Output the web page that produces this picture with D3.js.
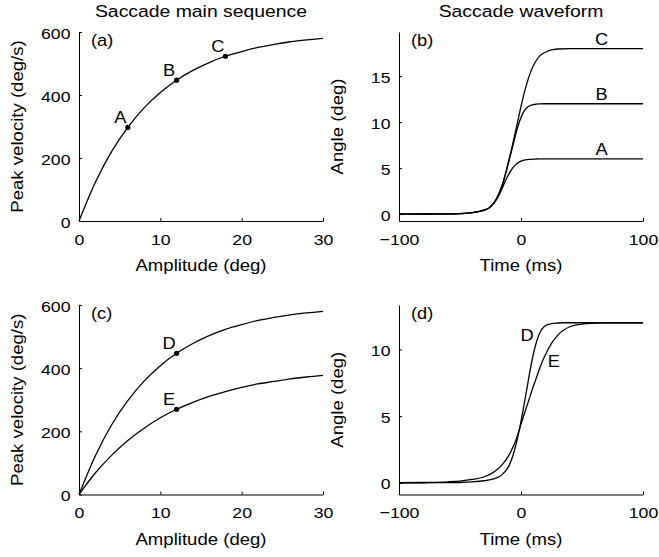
<!DOCTYPE html>
<html>
<head>
<meta charset="utf-8">
<script src="https://cdn.jsdelivr.net/npm/d3@7"></script>
<style>
  body { margin: 0; background: #fff; }
  text { font-family: "Liberation Sans", Arial, Helvetica, sans-serif; fill: #000; }
</style>
</head>
<body>
<div id="chart"></div>
<script>
// Main sequence: amplitude (deg) vs peak velocity (deg/s)
const amplitude = [0, 2, 4, 6, 8, 10, 12, 14, 16, 18, 20, 22, 24, 26, 28, 30];
const velocityFast = [0, 122, 220, 297, 359, 408, 447, 478, 503, 523, 538, 551, 561, 569, 575, 580];
const velocitySlow = [0, 68, 124, 171, 210, 243, 270, 292, 311, 326, 339, 350, 358, 366, 372, 377];

// Marked saccades on the main sequence
const seqNames = ['A', 'B', 'C'];
const seqAmp = [6, 12, 18];
const seqVel = [297, 447, 523];
const cmpNames = ['D', 'E'];
const cmpAmp = [12, 12];
const cmpVel = [447, 270];

// Waveforms for A, B, C (time in ms, angle in deg)
const timeABC = [-100, -80, -60, -50, -40, -35, -30, -25, -20, -17.5, -15, -12.5, -10, -7.5, -5, -2.5,
  0, 2.5, 5, 7.5, 10, 12.5, 15, 20, 25, 30, 40, 50, 60, 80, 100];
const angleA = [0, 0.01, 0.02, 0.05, 0.16, 0.27, 0.43, 0.77, 1.6, 2.2, 2.95, 3.7, 4.35, 4.9, 5.3, 5.58,
  5.76, 5.87, 5.93, 5.96, 5.98, 5.99, 6, 6, 6, 6, 6, 6, 6, 6, 6];
const angleB = [0, 0.01, 0.02, 0.05, 0.17, 0.28, 0.45, 0.8, 1.7, 2.4, 3.3, 4.45, 5.7, 7.0, 8.35, 9.55,
  10.5, 11.2, 11.6, 11.8, 11.9, 11.95, 11.98, 12, 12, 12, 12, 12, 12, 12, 12];
const angleC = [0, 0.01, 0.02, 0.05, 0.17, 0.28, 0.45, 0.8, 1.7, 2.4, 3.3, 4.5, 5.8, 7.2, 8.7, 10.2,
  11.7, 13.1, 14.3, 15.3, 16.1, 16.7, 17.15, 17.6, 17.85, 17.95, 18, 18, 18, 18, 18];

// Waveforms for D and E
const timeDE = [-100, -80, -60, -50, -40, -30, -25, -20, -15, -10, -7.5, -5, -2.5, 0, 2.5, 5, 7.5,
  10, 12.5, 15, 17.5, 20, 25, 30, 35, 40, 50, 60, 70, 80, 100];
const angleD = [0, 0, 0.01, 0.02, 0.06, 0.15, 0.23, 0.36, 0.65, 1.25, 1.8, 2.55, 3.5, 4.6, 5.85, 7.15, 8.45,
  9.6, 10.5, 11.15, 11.55, 11.78, 11.93, 11.98, 12, 12, 12, 12, 12, 12, 12];
const angleE = [0, 0.02, 0.07, 0.13, 0.25, 0.45, 0.65, 0.95, 1.4, 2.05, 2.5, 3.0, 3.65, 4.4, 5.1, 5.8, 6.5,
  7.2, 7.85, 8.5, 9.1, 9.6, 10.45, 11.05, 11.45, 11.7, 11.9, 11.97, 12, 12, 12];

const ampTicks = [0, 10, 20, 30];
const velTicks = [0, 200, 400, 600];
const timeTicks = [-100, 0, 100];

const width = 659, height = 557;
const stretch = 1.14; // the reference text is a bit wider than the font

const svg = d3.select('#chart').append('svg')
  .attr('width', width)
  .attr('height', height);

// Put a text at x, y, slightly widened
function addText(g, txt, x, y, size, anchor, rotate) {
  return g.append('text')
    .attr('transform', 'translate(' + x + ',' + y + ')' + (rotate ? ' rotate(' + rotate + ')' : '') +
      ' scale(' + stretch + ',1)')
    .attr('text-anchor', anchor || 'middle')
    .style('font-size', size + 'px')
    .text(txt);
}

// Draws axes, labels and returns the scales of one panel
function panel({ left, right, top, bottom, xDomain, yDomain, xTicks, yTicks, xLabel, yLabel, tag }) {
  const x = d3.scaleLinear().domain(xDomain).range([left, right]);
  const y = d3.scaleLinear().domain(yDomain).range([bottom, top]);
  const g = svg.append('g');

  const xAxis = g.append('g')
    .attr('transform', 'translate(0,' + bottom + ')')
    .call(d3.axisBottom(x).tickValues(xTicks).tickSizeInner(-3).tickSizeOuter(0)
      .tickPadding(13).tickFormat(d3.format('d')));
  const yAxis = g.append('g')
    .attr('transform', 'translate(' + left + ',0)')
    .call(d3.axisLeft(y).tickValues(yTicks).tickSizeInner(-3).tickSizeOuter(0)
      .tickPadding(7.5).tickFormat(d3.format('d')));

  [xAxis, yAxis].forEach(function (a) {
    a.attr('font-family', null).attr('font-size', null);
    a.select('.domain').attr('stroke', '#000').attr('stroke-width', 1);
    a.selectAll('.tick line').attr('stroke', '#000');
    a.selectAll('.tick text').style('font-size', '15.5px').attr('transform', 'scale(' + stretch + ',1)');
  });
  yAxis.selectAll('.tick text').attr('dy', '0.4em');

  addText(g, xLabel, (left + right) / 2, bottom + 50, 16.3, 'middle');
  addText(g, yLabel, left - 56, (top + bottom) / 2, 16.3, 'middle', -90);
  addText(g, tag, left + 12, top + 14, 16, 'start');

  return { g, x, y };
}

function drawCurve(p, xs, ys) {
  const line = d3.line()
    .x(function (d) { return p.x(d[0]); })
    .y(function (d) { return p.y(d[1]); })
    .curve(d3.curveMonotoneX);
  p.g.append('path')
    .datum(d3.zip(xs, ys))
    .attr('d', line)
    .attr('fill', 'none')
    .attr('stroke', '#000')
    .attr('stroke-width', 1.3);
}

function drawMarks(p, names, xs, ys) {
  names.forEach(function (n, i) {
    const cx = p.x(xs[i]), cy = p.y(ys[i]);
    p.g.append('circle').attr('cx', cx).attr('cy', cy).attr('r', 2.6).attr('fill', '#000');
    addText(p.g, n, cx - 7.5, cy - 4.5, 16, 'middle');
  });
}

// (a) main sequence
const pa = panel({
  left: 79, right: 323, top: 32, bottom: 221,
  xDomain: [0, 30], yDomain: [0, 600], xTicks: ampTicks, yTicks: velTicks,
  xLabel: 'Amplitude (deg)', yLabel: 'Peak velocity (deg/s)', tag: '(a)'
});
drawCurve(pa, amplitude, velocityFast);
drawMarks(pa, seqNames, seqAmp, seqVel);

// (b) waveforms A, B, C
const pb = panel({
  left: 399, right: 643, top: 32, bottom: 221,
  xDomain: [-100, 100], yDomain: [-0.75, 19.8], xTicks: timeTicks, yTicks: [0, 5, 10, 15],
  xLabel: 'Time (ms)', yLabel: 'Angle (deg)', tag: '(b)'
});
[angleA, angleB, angleC].forEach(function (ang, i) {
  drawCurve(pb, timeABC, ang);
  addText(pb.g, seqNames[i], pb.x(66), pb.y(ang[ang.length - 1]) - 3.5, 16, 'middle');
});

// (c) two main sequences
const pc = panel({
  left: 79, right: 323, top: 305, bottom: 494.5,
  xDomain: [0, 30], yDomain: [0, 600], xTicks: ampTicks, yTicks: velTicks,
  xLabel: 'Amplitude (deg)', yLabel: 'Peak velocity (deg/s)', tag: '(c)'
});
drawCurve(pc, amplitude, velocityFast);
drawCurve(pc, amplitude, velocitySlow);
drawMarks(pc, cmpNames, cmpAmp, cmpVel);

// (d) waveforms D, E
const pd = panel({
  left: 399, right: 643, top: 305, bottom: 494.5,
  xDomain: [-100, 100], yDomain: [-0.88, 13.33], xTicks: timeTicks, yTicks: [0, 5, 10],
  xLabel: 'Time (ms)', yLabel: 'Angle (deg)', tag: '(d)'
});
drawCurve(pd, timeDE, angleD);
drawCurve(pd, timeDE, angleE);
addText(pd.g, 'D', pd.x(5), pd.y(10.6), 16, 'middle');
addText(pd.g, 'E', pd.x(27), pd.y(8.65), 16, 'middle');

// Column titles
addText(svg, 'Saccade main sequence', 201, 17, 17, 'middle');
addText(svg, 'Saccade waveform', 521, 17, 17, 'middle');
</script>
</body>
</html>
